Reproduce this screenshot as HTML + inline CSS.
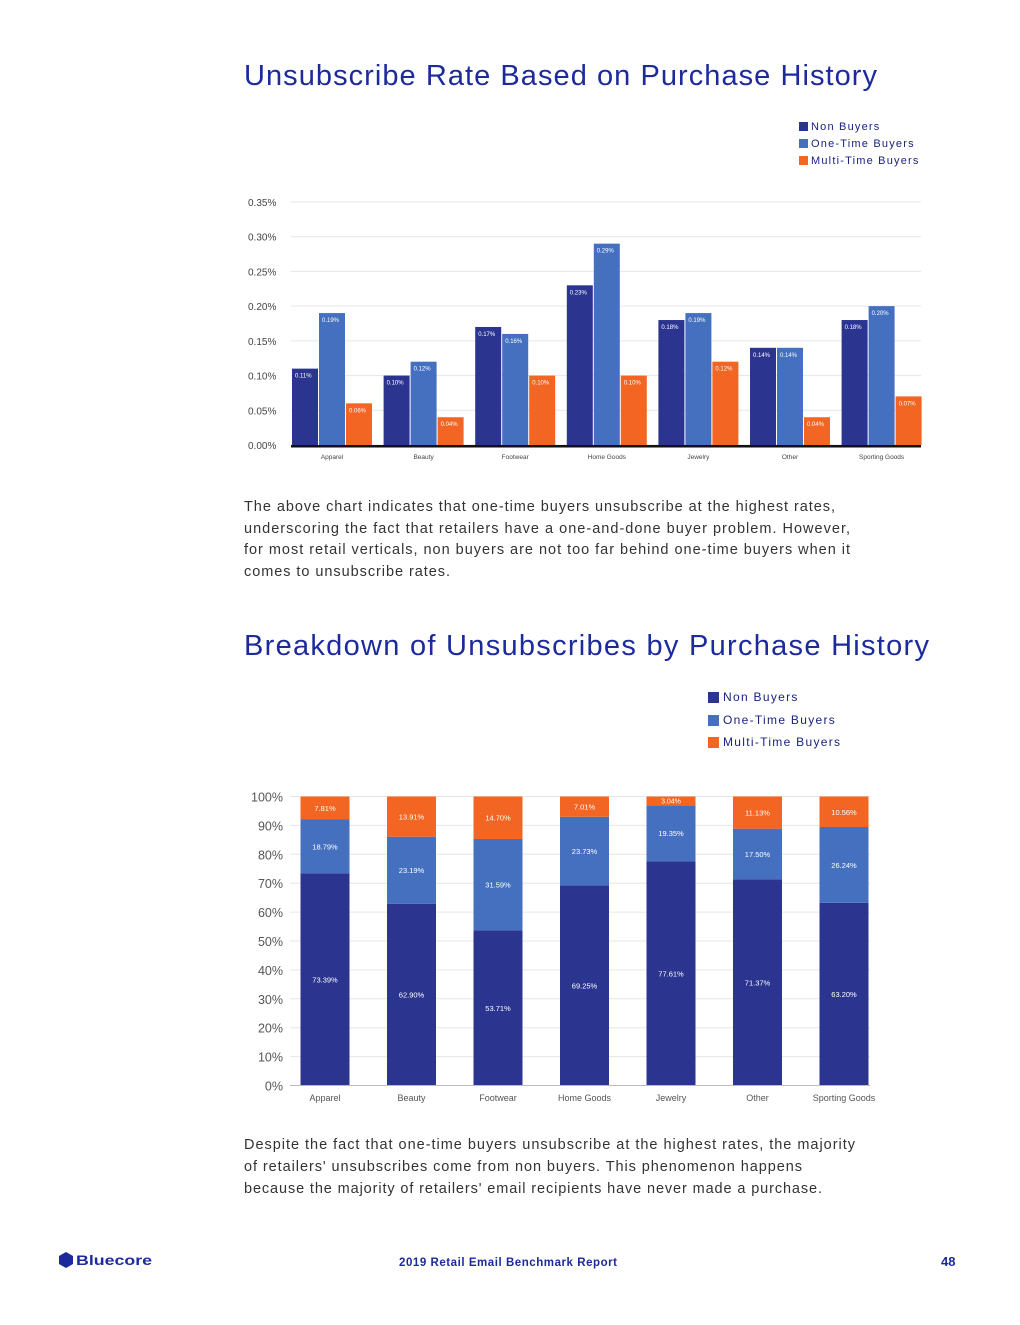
<!DOCTYPE html>
<html><head><meta charset="utf-8"><style>
body{margin:0;background:#fff;}
svg text{font-family:"Liberation Sans",sans-serif;}
</style></head><body>
<svg id="page" width="1020" height="1320" xmlns="http://www.w3.org/2000/svg">
<text x="244" y="85" font-size="29" fill="#1c2a9c" textLength="633" lengthAdjust="spacing">Unsubscribe Rate Based on Purchase History</text>
<g font-size="11" fill="#1a237e" letter-spacing="1.2">
<rect x="799" y="122" width="9" height="9" fill="#2b3590"/><text x="811" y="130">Non Buyers</text>
<rect x="799" y="139" width="9" height="9" fill="#4570c0"/><text x="811" y="147">One-Time Buyers</text>
<rect x="799" y="156" width="9" height="9" fill="#f26522"/><text x="811" y="164">Multi-Time Buyers</text>
</g>
<g id="c1"></g>
<g font-size="14.5" fill="#333" lengthAdjust="spacing">
<text x="244" y="511" textLength="591">The above chart indicates that one-time buyers unsubscribe at the highest rates,</text>
<text x="244" y="533" textLength="606">underscoring the fact that retailers have a one-and-done buyer problem. However,</text>
<text x="244" y="554" textLength="606">for most retail verticals, non buyers are not too far behind one-time buyers when it</text>
<text x="244" y="576" textLength="206">comes to unsubscribe rates.</text>
</g>
<text x="244" y="655" font-size="29" fill="#1c2a9c" textLength="685" lengthAdjust="spacing">Breakdown of Unsubscribes by Purchase History</text>
<g font-size="12" fill="#1a237e" letter-spacing="1.3">
<rect x="708" y="692" width="11" height="11" fill="#2b3590"/><text x="723" y="701">Non Buyers</text>
<rect x="708" y="715" width="11" height="11" fill="#4570c0"/><text x="723" y="724">One-Time Buyers</text>
<rect x="708" y="737" width="11" height="11" fill="#f26522"/><text x="723" y="746">Multi-Time Buyers</text>
</g>
<g id="c2"></g>
<g font-size="14.5" fill="#333" lengthAdjust="spacing">
<text x="244" y="1149" textLength="611">Despite the fact that one-time buyers unsubscribe at the highest rates, the majority</text>
<text x="244" y="1171" textLength="558">of retailers' unsubscribes come from non buyers. This phenomenon happens</text>
<text x="244" y="1193" textLength="578">because the majority of retailers' email recipients have never made a purchase.</text>
</g>
<g fill="#1c2a9c">
<polygon points="66,1252 73,1256 73,1264 66,1268 59,1264 59,1256" fill="#1c2a9c"/>
<text x="76" y="1265" font-size="14" font-weight="bold" textLength="76" lengthAdjust="spacingAndGlyphs">Bluecore</text>
<text x="399" y="1266" font-size="11.5" font-weight="bold" textLength="218" lengthAdjust="spacing">2019 Retail Email Benchmark Report</text>
<text x="941" y="1266" font-size="13" font-weight="bold">48</text>
</g>
</svg>
<script>
const cats=["Apparel","Beauty","Footwear","Home Goods","Jewelry","Other","Sporting Goods"];
const rateNon=[0.11,0.10,0.17,0.23,0.18,0.14,0.18];
const rateOne=[0.19,0.12,0.16,0.29,0.19,0.14,0.20];
const rateMulti=[0.06,0.04,0.10,0.10,0.12,0.04,0.07];
const rateTicks=[0,0.05,0.10,0.15,0.20,0.25,0.30,0.35];
const shareNon=[73.39,62.90,53.71,69.25,77.61,71.37,63.20];
const shareOne=[18.79,23.19,31.59,23.73,19.35,17.50,26.24];
const shareMulti=[7.81,13.91,14.70,7.01,3.04,11.13,10.56];
const shareTicks=[0,10,20,30,40,50,60,70,80,90,100];
const colors=["#2b3590","#4570c0","#f26522"];
const NS="http://www.w3.org/2000/svg";
function mk(p,tag,a,txt){const e=document.createElementNS(NS,tag);for(const k in a)e.setAttribute(k,a[k]);if(txt!=null)e.textContent=txt;p.appendChild(e);return e;}
// chart 1
const c1=document.getElementById('c1');
const y1=v=>445-v/0.35*243;
const x1=i=>291+i*91.6;
rateTicks.forEach(t=>{
 const l=mk(c1,'line',{x1:291,x2:921,y1:y1(t),y2:y1(t),stroke:'#e6e6e6','stroke-width':1});
 
 
 const tx=mk(c1,'text',{x:248,y:y1(t)+4,'font-size':10,fill:'#444'},t.toFixed(2)+'%');
 
 
});
[rateNon,rateOne,rateMulti].forEach((s,si)=>{
 s.forEach((v,i)=>{
  const bx=x1(i)+1+si*27;
  const r=mk(c1,'rect',{x:bx,y:y1(v),width:26,height:y1(0)-y1(v),fill:colors[si]});
  
  
  const t=mk(c1,'text',{x:bx+3,y:y1(v)+9,'font-size':6,fill:'#fff'},v.toFixed(2)+'%');
  
  
 });
});
const ax1=mk(c1,'rect',{x:291,y:445,width:630,height:2.5,fill:'#111'});


cats.forEach((c,i)=>{
 const t=mk(c1,'text',{x:x1(i)+41,y:459,'font-size':6.5,fill:'#444','text-anchor':'middle'},c);
 
 
});
// chart 2
const c2=document.getElementById('c2');
const y2=v=>1085.5-v/100*289;
const x2=i=>325+i*86.5;
shareTicks.forEach(t=>{
 const l=mk(c2,'line',{x1:290,x2:870,y1:y2(t),y2:y2(t),stroke:'#e6e6e6','stroke-width':1});
 
 
 const tx=mk(c2,'text',{x:283,y:y2(t)+5,'font-size':12.5,fill:'#555','text-anchor':'end'},t+'%');
 
 
});
cats.forEach((c,i)=>{
 let base=0;
 [shareNon,shareOne,shareMulti].forEach((s,si)=>{
  const v=s[i];
  const top=Math.min(100,base+v);
  const r=mk(c2,'rect',{x:x2(i)-24.5,y:y2(top),width:49,height:y2(base)-y2(top),fill:colors[si]});
  
  
  const t=mk(c2,'text',{x:x2(i),y:v<5?y2(top)+7:y2((base+top)/2)+3,'font-size':v<5?7:7.5,fill:'#fff','text-anchor':'middle'},v.toFixed(2)+'%');
  
  
  base=top;
 });
 const t=mk(c2,'text',{x:x2(i),y:1101,'font-size':9,fill:'#555','text-anchor':'middle'},c);
 
 
});
const ax2=mk(c2,'line',{x1:290,x2:870,y1:1085.5,y2:1085.5,stroke:'#bbb','stroke-width':1});


</script>
</body></html>
